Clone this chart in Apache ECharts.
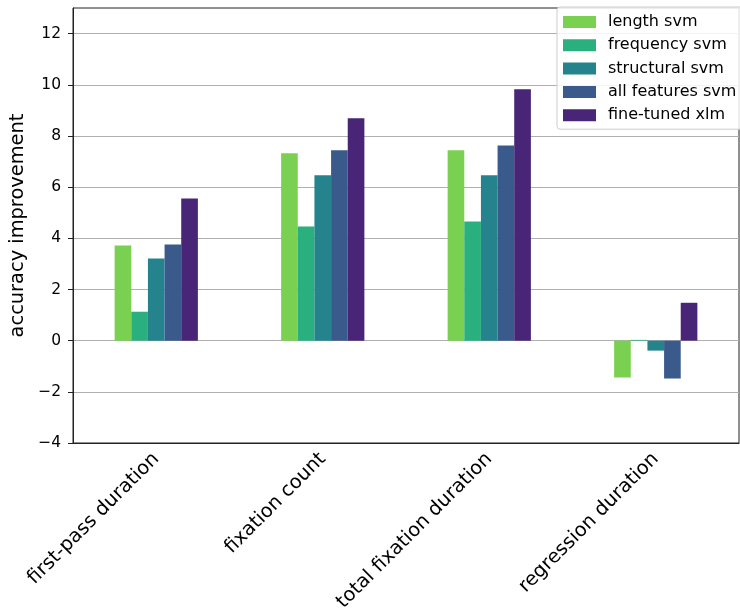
<!DOCTYPE html>
<html>
<head>
<meta charset="utf-8">
<script src="https://cdn.jsdelivr.net/npm/echarts@6/dist/echarts.min.js"></script>
<style>
  html, body { margin: 0; padding: 0; background: #fff; }
  #chart { width: 740px; height: 615px; }
</style>
</head>
<body>
<div id="chart"></div>
<script>
// Eye-tracking measures and the accuracy improvement of each model
const categories = ['first-pass duration', 'fixation count', 'total fixation duration', 'regression duration'];
const lengthSvm = [3.72, 7.32, 7.44, -1.44];
const frequencySvm = [1.13, 4.46, 4.66, 0.03];
const structuralSvm = [3.21, 6.46, 6.46, -0.39];
const allFeaturesSvm = [3.76, 7.44, 7.63, -1.48];
const fineTunedXlm = [5.56, 8.69, 9.82, 1.48];
const yTicks = [-4, -2, 0, 2, 4, 6, 8, 10, 12];

const seriesNames = ['length svm', 'frequency svm', 'structural svm', 'all features svm', 'fine-tuned xlm'];
const seriesValues = [lengthSvm, frequencySvm, structuralSvm, allFeaturesSvm, fineTunedXlm];
const colors = ['#7ad151', '#2ab07f', '#25838e', '#3a5a8c', '#482576'];

const font = 'DejaVu Sans';
const chart = echarts.init(document.getElementById('chart'), null, { renderer: 'canvas' });

chart.setOption({
  animation: false,
  backgroundColor: '#ffffff',
  grid: { left: 73, right: 1, top: 8, bottom: 172, show: true, borderColor: '#222', borderWidth: 1, backgroundColor: 'transparent' },
  legend: {
    data: seriesNames,
    orient: 'vertical',
    left: 557,
    top: 7,
    padding: [6, 8, 5, 6],
    itemWidth: 33,
    itemHeight: 12,
    itemGap: 5.3,
    icon: 'rect',
    backgroundColor: 'rgba(255,255,255,0.85)',
    borderColor: '#cccccc',
    borderWidth: 1,
    borderRadius: 3,
    textStyle: { fontFamily: font, fontSize: 16, color: '#000', lineHeight: 18, padding: [0, 0, 0, 7] }
  },
  xAxis: {
    type: 'category',
    data: categories,
    axisLine: { onZero: false, lineStyle: { color: '#222', width: 1 } },
    axisTick: { alignWithLabel: true, length: 5, lineStyle: { color: '#222' } },
    axisLabel: { rotate: 45, fontFamily: font, fontSize: 19.4, color: '#000', margin: 13 },
    splitLine: { show: false }
  },
  yAxis: {
    type: 'value',
    min: -4,
    max: 13,
    interval: 2,
    name: 'accuracy improvement',
    nameLocation: 'middle',
    nameGap: 39,
    nameTextStyle: { fontFamily: font, fontSize: 19.4, color: '#000' },
    axisLine: { show: true, lineStyle: { color: '#222', width: 1 } },
    axisTick: { show: true, length: 5, customValues: yTicks, lineStyle: { color: '#222' } },
    axisLabel: {
      fontFamily: font, fontSize: 15.5, color: '#000', margin: 12,
      customValues: yTicks,
      formatter: v => (v > 12 ? '' : String(v).replace('-', '\u2212'))
    },
    splitLine: { show: true, lineStyle: { color: '#b0b0b0', width: 1 } }
  },
  series: seriesNames.map((name, i) => ({
    name: name,
    type: 'bar',
    data: seriesValues[i],
    barGap: '0%',
    barCategoryGap: '50%',
    itemStyle: { color: colors[i] }
  }))
});
</script>
</body>
</html>
